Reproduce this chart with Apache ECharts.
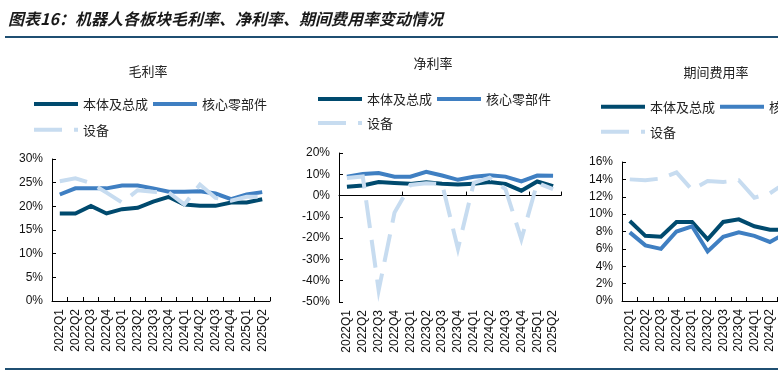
<!DOCTYPE html>
<html><head><meta charset="utf-8">
<script src="https://cdn.jsdelivr.net/npm/echarts@6/dist/echarts.min.js"></script>
<style>html,body{margin:0;padding:0;background:#fff}#c{width:778px;height:381px}</style>
</head><body><div id="c"></div>
<script>
const quarters = ['2022Q1','2022Q2','2022Q3','2022Q4','2023Q1','2023Q2','2023Q3','2023Q4','2024Q1','2024Q2','2024Q3','2024Q4','2025Q1','2025Q2'];
const seriesNames = ['本体及总成','核心零部件','设备'];
const panelTitles = ['毛利率','净利率','期间费用率'];
const mainTitle = '图表16：机器人各板块毛利率、净利率、期间费用率变动情况';

const grossBody  = [18.5,18.5,20.1,18.5,19.4,19.7,21.0,22.0,20.4,20.1,20.1,20.8,20.8,21.5];
const grossCore  = [22.5,23.8,23.8,23.8,24.4,24.4,23.8,23.1,23.1,23.2,22.7,21.5,22.5,23.0];
const grossEquip = [25.3,25.9,24.9,22.9,20.8,23.4,23.1,22.9,20.4,24.6,21.8,21.2,22.0,22.0];

const netBody  = [4.1,4.7,6.4,5.9,5.5,6.3,5.6,5.2,5.5,6.4,5.5,2.3,6.6,4.4];
const netCore  = [8.9,10.1,10.6,8.9,8.9,11.2,9.4,7.4,8.8,9.5,8.9,6.7,9.4,9.3];
const netEquip = [8.3,9.0,-44.5,-8.0,5.0,5.8,5.5,-25.0,6.0,8.4,3.0,-20.5,6.0,3.0];

const feeBody  = [9.2,7.5,7.4,9.1,9.1,7.1,9.1,9.4,8.6,8.2,8.2,null,null,null];
const feeCore  = [7.9,6.4,6.0,8.0,8.6,5.7,7.4,7.9,7.5,6.8,7.8,null,null,null];
const feeEquip = [14.0,13.9,14.1,14.8,12.8,13.8,13.7,13.9,11.9,12.4,13.6,null,null,null];

const colors = ['#004a6e','#3f7fc2','#c7dcf0'];
const solidIcon = 'path://M0,0H44V4H0Z';
const dashIcon = 'path://M0,0H28V4H0Z M40,0H44V4H40Z';
const panels = [
  {data:[grossBody,grossCore,grossEquip], min:0, max:30, interval:5,
   grid:{left:52, top:159, width:218, height:142}, title:{x:148, y:73},
   legend:{x:34, y1:105, y2:130.7}},
  {data:[netBody,netCore,netEquip], min:-50, max:20, interval:10,
   grid:{left:339, top:153, width:222, height:149}, title:{x:433, y:65},
   legend:{x:318, y1:100, y2:124}},
  {data:[feeBody,feeCore,feeEquip], min:0, max:16, interval:2,
   grid:{left:622, top:162, width:218, height:139}, title:{x:716, y:74},
   legend:{x:601, y1:107.7, y2:132.7}}
];

const grids=[], xAxes=[], yAxes=[], series=[], legends=[], titles=[];
const labelFont = {fontFamily:'Liberation Sans, Arial, sans-serif', fontSize:12, color:'#111'};
panels.forEach((p,i)=>{
  grids.push(Object.assign({containLabel:false, outerBoundsMode:'none'}, p.grid));
  const hasNeg = p.min < 0;
  xAxes.push({type:'category', gridIndex:i, data:quarters, boundaryGap:true,
    axisLine:{show:!hasNeg, onZero:false, lineStyle:{color:'#000', width:1}},
    axisTick:{show:!hasNeg, inside:true, length:4, lineStyle:{color:'#000'}},
    axisLabel:Object.assign({rotate:90, margin:8, interval:0, hideOverlap:false}, labelFont),
    splitLine:{show:false}});
  yAxes.push({type:'value', gridIndex:i, min:p.min, max:p.max, interval:p.interval,
    axisLine:{show:true, lineStyle:{color:'#000', width:1}},
    axisTick:{show:true, inside:true, length:4, lineStyle:{color:'#000'}},
    axisLabel:Object.assign({formatter:'{value}%', margin:9}, labelFont),
    splitLine:{show:false}});
  p.data.forEach((d,k)=>{
    series.push({type:'line', name:seriesNames[k], xAxisIndex:i, yAxisIndex:i, data:d,
      symbol:'none', smooth:false, z:2+k,
      lineStyle:{color:colors[k], width:4, type: k===2 ? [28,12] : 'solid', cap:'butt', join:'miter'},
      itemStyle:{color:colors[k]}});
  });
  titles.push({text:panelTitles[i], left:p.title.x, top:p.title.y-8, textAlign:'center', padding:0,
    textStyle:{fontFamily:'Noto Sans CJK SC', fontSize:13, fontWeight:'normal', color:'#222'}});
  const lg = {orient:'horizontal', itemWidth:44, itemHeight:4, itemGap:5, itemTextGap:5,
    selectedMode:false, width:400, padding:0,
    textStyle:{fontFamily:'Noto Sans CJK SC', fontSize:13, color:'#222'}};
  legends.push(Object.assign({}, lg, {left:p.legend.x, top:p.legend.y1-7.5,
    data:[{name:seriesNames[0], icon:solidIcon, itemStyle:{color:colors[0]}},
          {name:seriesNames[1], icon:solidIcon, itemStyle:{color:colors[1]}}]}));
  legends.push(Object.assign({}, lg, {left:p.legend.x, top:p.legend.y2-7.5,
    data:[{name:seriesNames[2], icon:dashIcon, itemStyle:{color:colors[2]}}]}));
});
xAxes.push({type:'category', gridIndex:1, data:quarters, boundaryGap:true, position:'bottom',
  axisLine:{show:true, onZero:true, lineStyle:{color:'#000', width:1}},
  axisTick:{show:true, inside:true, length:4, lineStyle:{color:'#000'}},
  axisLabel:{show:false}, splitLine:{show:false}});
titles.push({text:mainTitle, left:8, top:11, padding:0,
  textStyle:{fontFamily:'Noto Sans CJK SC', fontSize:16, fontWeight:'bold', fontStyle:'italic', color:'#1a1a1a'}});

const chart = echarts.init(document.getElementById('c'), null, {renderer:'canvas'});
chart.setOption({
  animation:false,
  backgroundColor:'#fff',
  title:titles,
  legend:legends,
  grid:grids,
  xAxis:xAxes,
  yAxis:yAxes,
  series:series,
  graphic:[
    {type:'rect', shape:{x:5, y:36, width:773, height:2}, style:{fill:'#1f4f72'}, silent:true},
    {type:'rect', shape:{x:5, y:368, width:773, height:2}, style:{fill:'#1f4f72'}, silent:true}
  ]
});
</script></body></html>
